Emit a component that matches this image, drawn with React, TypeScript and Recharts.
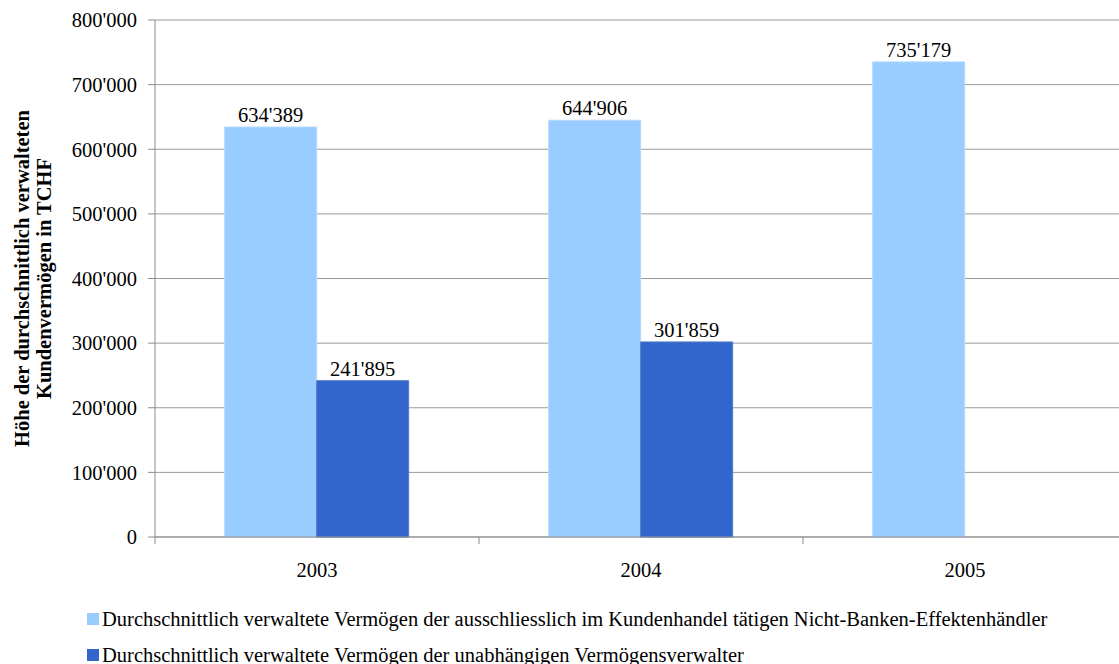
import React from 'react';
import { BarChart, Bar, XAxis, YAxis, CartesianGrid, Legend, LabelList } from 'recharts';

const years = ['2003', '2004', '2005'];
const effektenhaendler = [634389, 644906, 735179];
const vermoegensverwalter: (number | null)[] = [241895, 301859, null];
const yTicks = [0, 100000, 200000, 300000, 400000, 500000, 600000, 700000, 800000];

const seriesNames = [
    'Durchschnittlich verwaltete Vermögen der ausschliesslich im Kundenhandel tätigen Nicht-Banken-Effektenhändler',
    'Durchschnittlich verwaltete Vermögen der unabhängigen Vermögensverwalter',
];
const seriesColors = ['#99CCFF', '#3366CC'];

const data = years.map((year, i) => ({
    year,
    effekten: effektenhaendler[i],
    verwalter: vermoegensverwalter[i],
}));

const FONT = '"Liberation Serif", "Times New Roman", serif';
const FS = 20.5;
const CHART_W = 1127;
const MARGIN_LEFT = 0;
const Y_AXIS_W = 155;
const PLOT_W = CHART_W - MARGIN_LEFT - Y_AXIS_W;
const BAND = PLOT_W / years.length;

const fmt = (v: number) => String(v).replace(/\B(?=(\d{3})+(?!\d))/g, "'");

// category boundary ticks like excel, label in the middle
const XTick = (props: any) => {
    const { x, y, payload, index } = props;
    return (
        <g>
            <line x1={x - BAND / 2} x2={x - BAND / 2} y1={y} y2={y + 7} stroke="#8c8c8c" />
            {index === years.length - 1 && (
                <line x1={x + BAND / 2} x2={x + BAND / 2} y1={y} y2={y + 7} stroke="#8c8c8c" />
            )}
            <text x={x} y={y + 40} textAnchor="middle" fill="#000" fontSize={FS} fontFamily={FONT}>
                {payload.value}
            </text>
        </g>
    );
};

const YTitle = (props: any) => {
    const vb = props.viewBox || {};
    const cy = (vb.y ?? 20) + (vb.height ?? 517) / 2;
    return (
        <g fontFamily={FONT} fontWeight="bold" fontSize={FS} fill="#000">
            <text x={29} y={cy} textAnchor="middle" transform={`rotate(-90, 29, ${cy})`}>
                Höhe der durchschnittlich verwalteten
            </text>
            <text x={51} y={cy} textAnchor="middle" transform={`rotate(-90, 51, ${cy})`}>
                Kundenvermögen in TCHF
            </text>
        </g>
    );
};

const LegendContent = () => (
    <div style={{ height: 82, paddingLeft: 87, paddingTop: 19, boxSizing: 'border-box', fontFamily: FONT, fontSize: FS, color: '#000' }}>
        {seriesNames.map((name, i) => (
            <div key={name} style={{ display: 'flex', alignItems: 'center', height: 36, whiteSpace: 'nowrap' }}>
                <span style={{ width: 12, height: 12, background: seriesColors[i], marginRight: 3, display: 'inline-block' }} />
                <span>{name}</span>
            </div>
        ))}
    </div>
);

const App: React.FC = () => {
    return (
        <div style={{ position: 'absolute', left: 0, top: 0, width: 1119, height: 664, overflow: 'hidden', background: '#fff' }}>
            <BarChart
                width={CHART_W}
                height={664}
                data={data}
                margin={{ top: 20, right: 0, left: MARGIN_LEFT, bottom: 0 }}
                barCategoryGap="21.5%"
                barGap={0}
            >
                <CartesianGrid vertical={false} stroke="#9a9a9a" />
                <XAxis
                    dataKey="year"
                    height={45}
                    axisLine={{ stroke: '#8c8c8c' }}
                    tickLine={false}
                    tickSize={0}
                    tickMargin={0}
                    tick={<XTick />}
                    interval={0}
                />
                <YAxis
                    width={Y_AXIS_W}
                    domain={[0, 800000]}
                    ticks={yTicks}
                    interval={0}
                    tickFormatter={fmt}
                    axisLine={{ stroke: '#8c8c8c' }}
                    tickLine={{ stroke: '#8c8c8c' }}
                    tickSize={7}
                    tickMargin={11}
                    tick={{ fill: '#000', fontSize: FS, fontFamily: FONT }}
                    label={{ content: <YTitle /> }}
                />
                <Legend verticalAlign="bottom" align="left" content={<LegendContent />} />
                <Bar dataKey="effekten" name={seriesNames[0]} fill={seriesColors[0]} stroke="#b3d9ff" isAnimationActive={false}>
                    <LabelList dataKey="effekten" position="top" formatter={(v: any) => fmt(v)} fill="#000" fontSize={FS} fontFamily={FONT} />
                </Bar>
                <Bar dataKey="verwalter" name={seriesNames[1]} fill={seriesColors[1]} stroke="#4f7cc8" isAnimationActive={false}>
                    <LabelList dataKey="verwalter" position="top" formatter={(v: any) => (v == null ? '' : fmt(v))} fill="#000" fontSize={FS} fontFamily={FONT} />
                </Bar>
            </BarChart>
        </div>
    );
};

export default App;
